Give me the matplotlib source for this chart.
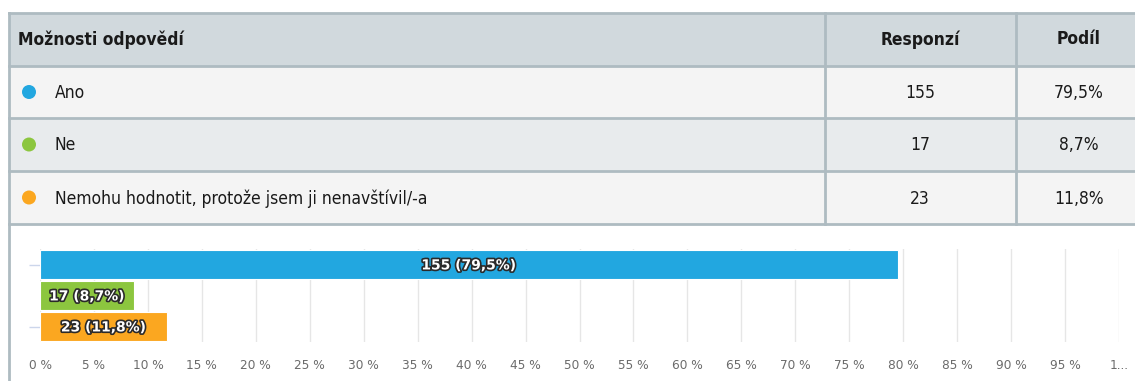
import matplotlib.pyplot as plt
import matplotlib.patheffects as pe
from matplotlib.patches import Rectangle, Circle
import numpy as np

# data
options = ["Ano", "Ne", "Nemohu hodnotit, protože jsem ji nenavštívil/-a"]
responses = [155, 17, 23]
shares = [79.5, 8.7, 11.8]
colors = ["#22a7e0", "#8cc63f", "#fba720"]
header = ["Možnosti odpovědí", "Responzí", "Podíl"]
x_ticks = np.arange(0, 101, 5)
x_ticklabels = [f"{t} %" for t in x_ticks[:-1]] + ["1..."]

W, H = 1135, 381
fig = plt.figure(figsize=(W / 100, H / 100), dpi=100)

# background axes in pixel coordinates for the table
bg = fig.add_axes([0, 0, 1, 1])
bg.set_xlim(0, W)
bg.set_ylim(H, 0)
bg.axis("off")

border = "#aebbc1"
tfont = dict(family="DejaVu Sans", fontstretch="condensed", color="#1a1a1a")
row_edges = [13, 66, 118, 171, 224]
fills = ["#d1d9dd", "#f4f4f4", "#e8ebed", "#f4f4f4"]
for i, fc in enumerate(fills):
    bg.add_patch(Rectangle((9, row_edges[i]), W, row_edges[i + 1] - row_edges[i],
                           facecolor=fc, edgecolor="none", zorder=0))
for y in row_edges:
    bg.plot([9, W], [y, y], color=border, lw=2, zorder=1)
bg.plot([9, 9], [13, H], color=border, lw=2, zorder=1)
for x in [825, 1016]:
    bg.plot([x, x], [13, 224], color=border, lw=2, zorder=1)

col_c = [920, 1079]
hy = (row_edges[0] + row_edges[1]) / 2
bg.text(18, hy, header[0], ha="left", va="center", fontsize=12.5, fontweight="bold", **tfont)
bg.text(col_c[0], hy, header[1], ha="center", va="center", fontsize=12.5, fontweight="bold", **tfont)
bg.text(col_c[1], hy, header[2], ha="center", va="center", fontsize=12.5, fontweight="bold", **tfont)

for i, (opt, n, s, c) in enumerate(zip(options, responses, shares, colors)):
    yc = (row_edges[i + 1] + row_edges[i + 2]) / 2
    bg.add_patch(Circle((29, yc), 7, facecolor=c, edgecolor="none", zorder=2))
    bg.text(55, yc + 1, opt, ha="left", va="center", fontsize=12.5, **tfont)
    bg.text(col_c[0], yc + 1, str(n), ha="center", va="center", fontsize=12.5, **tfont)
    bg.text(col_c[1], yc + 1, f"{s:.1f}%".replace(".", ","), ha="center", va="center",
            fontsize=12.5, **tfont)

# bar chart
ax = fig.add_axes([40 / W, (H - 342) / H, (1119 - 40) / W, 93 / H])
ypos = np.arange(len(options))
ax.barh(ypos, shares, height=0.92, color=colors, edgecolor="white", linewidth=0.8, zorder=2)
ax.set_xlim(0, 100)
ax.set_ylim(2.5, -0.5)
ax.set_xticks(x_ticks)
ax.set_xticklabels(x_ticklabels, fontsize=8.7, color="#6b6b6b")
ax.tick_params(axis="x", length=0, pad=12)
ax.set_yticks([0, 2])
ax.set_yticklabels([])
ax.tick_params(axis="y", length=8, color="#ccd6eb", width=1, pad=10)
ax.grid(axis="x", color="#e6e6e6", lw=1, zorder=0)
for sp in ax.spines.values():
    sp.set_visible(False)

for y, n, s in zip(ypos, responses, shares):
    lbl = f"{n} ({s:.1f}%)".replace(".", ",")
    ax.text(s / 2, y + 0.03, lbl, ha="center", va="center", fontsize=10, fontweight="bold",
            color="white", zorder=3,
            path_effects=[pe.withStroke(linewidth=2.4, foreground="#2a2a2a")])

fig.savefig("out.png", dpi=100)
